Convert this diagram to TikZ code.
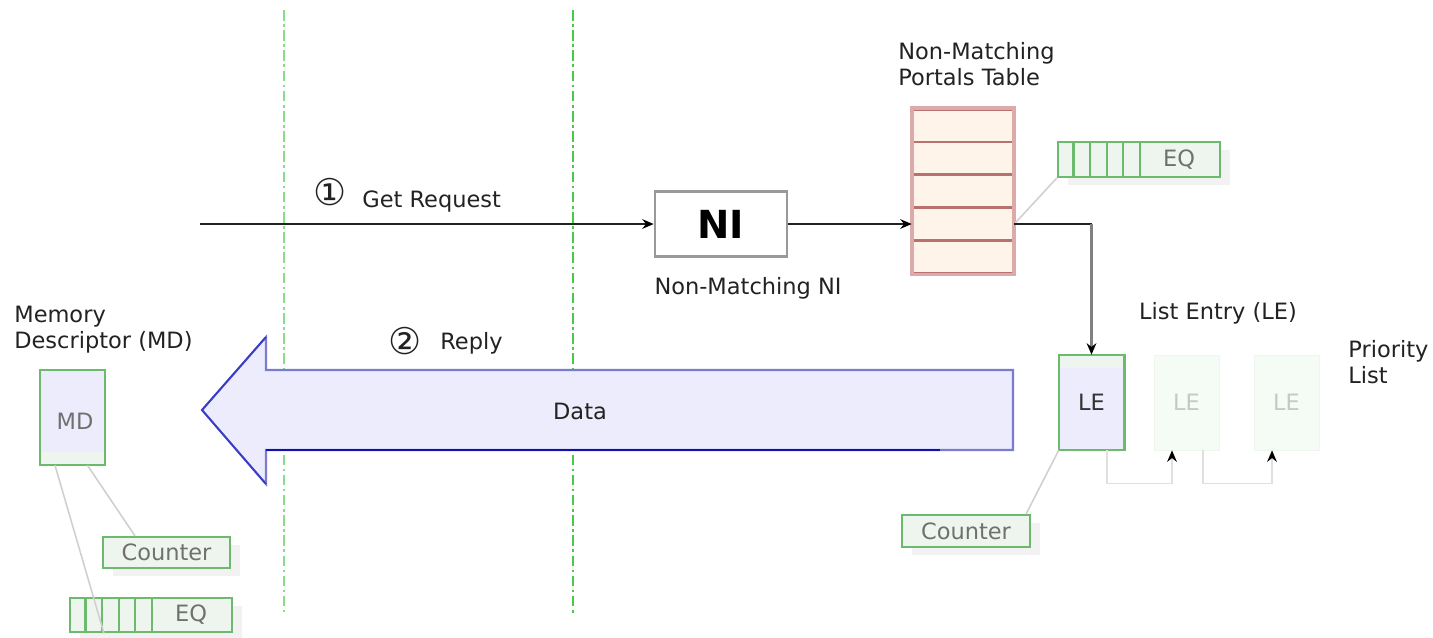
\documentclass[tikz,border=0pt]{standalone}
\usepackage{fontspec}
\setmainfont{DejaVu Sans}
\usetikzlibrary{arrows.meta,calc,shadows}

\definecolor{inkdark}{HTML}{222222}
\definecolor{labelgray}{HTML}{707070}
\definecolor{boxgreen}{HTML}{6CBB6C}
\definecolor{palegreen}{HTML}{EEF5EE}
\definecolor{lavender}{HTML}{ECECFC}
\definecolor{arrowblue}{HTML}{7B7BD0}
\definecolor{deepblue}{HTML}{1010B0}
\definecolor{headblue}{HTML}{3A3AC8}
\definecolor{tablefill}{HTML}{FFF4EA}
\definecolor{tableedge}{HTML}{DDAAAA}
\definecolor{tableline}{HTML}{B87070}
\definecolor{leadergray}{HTML}{D0D0D0}
\definecolor{linkgray}{HTML}{E0E0E0}
\definecolor{fadefill}{HTML}{F5FBF5}
\definecolor{fadeedge}{HTML}{EEF6EE}
\definecolor{boundgreen}{HTML}{44CC44}
\definecolor{boundgreenlt}{HTML}{88DD88}

\begin{document}
\begin{tikzpicture}[x=0.02cm,y=-0.02cm,
  font=\fontsize{12.8}{14.8}\selectfont,
  txt/.style={inner sep=0pt, text=inkdark},
  circled/.style={txt, font=\fontsize{21}{24}\selectfont},
  tip/.style={-{Stealth[length=6.5pt,width=5.5pt,black]}},
  flow/.style={line width=0.9pt, draw=inkdark},
  leader/.style={line width=0.9pt, draw=leadergray},
  boundary/.style={line width=1.5pt, dash pattern=on 6pt off 2pt on 1.5pt off 2pt},
  gbox/.style={draw=boxgreen, line width=1.3pt, fill=palegreen, text=labelgray, inner sep=0pt,
    drop shadow={shadow xshift=0.2cm, shadow yshift=-0.16cm, fill=black!5, opacity=1}},
  eqbox/.style={gbox, minimum height=0.69cm, text width=2.24cm, align=right, inner xsep=0.5cm},
  cell/.style={draw=boxgreen, line width=1.2pt},
  entry/.style={minimum width=1.3cm, minimum height=1.9cm, inner sep=0pt},
  trow/.style={draw=tableline, line width=1.5pt, fill=tablefill, minimum width=2cm, minimum height=0.656cm, inner sep=0pt},
  faint/.style={line width=0.9pt, draw=linkgray}]

\useasboundingbox (0,0) rectangle (1433,637);

% network boundaries
\draw[boundary, boundgreenlt] (284,10) -- (284,612);
\draw[boundary, boundgreen] (573,10) -- (573,615);

% request path
\coordinate (src) at (200,224);
\node[draw=black!40, line width=1.5pt, fill=white, minimum width=2.64cm, minimum height=1.3cm,
      font=\fontsize{22}{26}\selectfont\bfseries, text=black] (ni) at (721,224) {NI};
\node[txt] (nilabel) at (748,288) {Non-Matching NI};
\node[circled] (c1) at (330,192) {①};
\node[txt, anchor=west] (getreq) at (362,201) {Get Request};
\draw[flow, tip] (src) -- (ni.west);

% portals table
\foreach \i in {1,...,5}
  \node[trow] (r\i) at (963,{109.2+(\i-0.5)*32.8}) {};
\draw[tableedge, line width=2.2pt] (r1.north west) rectangle (r5.south east);
\node[txt, anchor=north west, align=left] (tbllabel) at (898,42) {Non-Matching\\Portals Table};
\draw[flow, tip] (ni.east) -- (r4.west);

% event queue of the table
\node[eqbox] (eqT) at (1139,159.5) {EQ};
\foreach \k in {1,...,5}
  \draw[cell] ([xshift=\k*0.332cm]eqT.south west) -- ([xshift=\k*0.332cm]eqT.north west);
\draw[leader] (r4.east) -- (eqT.south west);

% list entries
\node[entry, fill=lavender] (le1) at (1091.5,402.5) {};
\fill[palegreen] (le1.north west) rectangle ($(le1.north east)+(0,13)$);
\draw[boxgreen, line width=1.3pt] (le1.north west) rectangle (le1.south east);
\node[txt, text=black!80] (le1t) at (le1) {LE};
\node[entry, fill=fadefill, draw=fadeedge, text=black!22] (le2) at (1186.5,402.5) {LE};
\node[entry, fill=fadefill, draw=fadeedge, text=black!22] (le3) at (1286.5,402.5) {LE};
\node[txt] (lelabel) at (1218,313) {List Entry (LE)};
\node[txt, anchor=north west, align=left] (prio) at (1348,340) {Priority\\List};

\coordinate (bend) at (le1.north |- r4.east);
\draw[flow] (r4.east) -- (bend);
\draw[line width=1.6pt, draw=black!50, tip] (bend) -- (le1.north);

\draw[faint, tip] ([xshift=0.31cm]le1.south) -- ++(0,33) -| ([xshift=-0.29cm]le2.south);
\draw[faint, tip] ([xshift=0.33cm]le2.south) -- ++(0,33) -| ([xshift=-0.29cm]le3.south);

\node[gbox, minimum width=2.56cm, minimum height=0.64cm] (cntR) at (966,531) {Counter};
\draw[leader] (le1.south west) -- ([xshift=-0.1cm]cntR.north east);

% reply with data
\filldraw[fill=lavender, draw=arrowblue, line width=1.2pt]
  (202,410) -- (266,337) -- (266,370) -- (1013,370) -- (1013,450) -- (266,450) -- (266,484) -- cycle;
\draw[deepblue, line width=1.3pt] (266,450) -- (940,450);
\draw[headblue, line width=1pt] (266,337) -- (202,410) -- (266,484);
\node[txt] (data) at (580,411) {Data};
\node[circled] (c2) at (405,341) {②};
\node[txt, anchor=west] (reply) at (440,343) {Reply};

% memory descriptor
\node[txt, anchor=north west, align=left] (mdlabel) at (14,306) {Memory\\Descriptor (MD)};
\node[entry, fill=lavender] (md) at (72.5,417.5) {};
\fill[palegreen] ($(md.south west)+(0,-13)$) rectangle (md.south east);
\draw[boxgreen, line width=1.3pt] (md.north west) rectangle (md.south east);
\node[txt, text=labelgray] (mdt) at (75,421) {MD};

\node[gbox, minimum width=2.54cm, minimum height=0.62cm] (cntL) at (166.5,552.5) {Counter};
\node[eqbox] (eqL) at (151,615) {EQ};
\foreach \k in {1,...,5}
  \draw[cell] ([xshift=\k*0.332cm]eqL.south west) -- ([xshift=\k*0.332cm]eqL.north west);
\draw[leader] ([xshift=-0.35cm]md.south) -- ([xshift=-0.94cm]eqL.south);
\draw[leader] ([xshift=0.3cm]md.south) -- ([xshift=-0.63cm]cntL.north);

\end{tikzpicture}
\end{document}
